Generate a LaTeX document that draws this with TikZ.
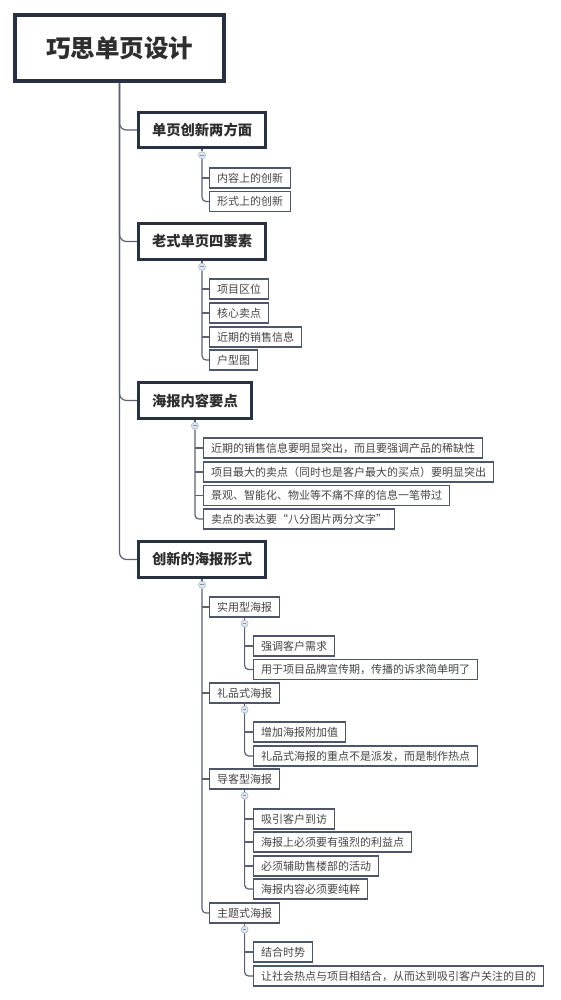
\documentclass[tikz,border=0pt]{standalone}
\usepackage{fontspec}
\setmainfont{Noto Sans CJK SC}
\usepackage{xcolor}
\usetikzlibrary{positioning,calc}

\definecolor{navy}{HTML}{283042}
\definecolor{leafline}{HTML}{4E576A}
\definecolor{linkgray}{HTML}{5A6272}
\definecolor{txt}{HTML}{2E2E2E}
\definecolor{leaftxt}{HTML}{454545}
\definecolor{foldfill}{HTML}{DFE7F1}
\definecolor{folddraw}{HTML}{A9B7C9}

\begin{document}
\begin{tikzpicture}[
    x=1pt, y=-1pt,
    root/.style={draw=navy, line width=4pt, fill=white, minimum width=209pt, minimum height=66pt, align=center, font=\fontsize{24.5}{28}\selectfont\bfseries, text=txt},
    topic/.style={draw=navy, line width=3pt, fill=white, anchor=west, inner xsep=13.5pt, minimum height=35.5pt, font=\fontsize{14.3}{17}\selectfont\bfseries, text=txt},
    subtopic/.style={draw=leafline, line width=1.2pt, fill=white, anchor=west, inner xsep=7.5pt, minimum height=20pt, font=\fontsize{11}{13}\selectfont, text=leaftxt},
    leaf/.style={subtopic},
    fold/.style={circle, draw=folddraw, fill=foldfill, line width=0.6pt, minimum size=7pt, inner sep=0pt,
        path picture={\draw[folddraw!80!black, line width=0.6pt] ([xshift=-1.8pt]path picture bounding box.center) -- ([xshift=1.8pt]path picture bounding box.center);}},
    link/.style={draw=linkgray, line width=1.2pt},
    trunk/.style={link, rounded corners=7pt},
    twig/.style={link, rounded corners=4pt}
]
\useasboundingbox[fill=white] (0,0) rectangle (560,1000);

% root and main topics
\node[root] (root) at (119.5,48) {巧思单页设计};
\node[topic] (t1) at (137,130) {单页创新两方面};
\node[topic] (t2) at (137,241.5) {老式单页四要素};
\node[topic] (t3) at (137,400.5) {海报内容要点};
\node[topic] (t4) at (137,559.5) {创新的海报形式};

\node[fold] (m1) at ($(t1.south)+(0,6)$) {};
\node[fold] (m2) at ($(t2.south)+(0,6)$) {};
\node[fold] (m3) at ($(t3.south)+(0,6)$) {};
\node[fold] (m4) at ($(t4.south)+(0,6)$) {};

% 单页创新两方面
\node[leaf] (a1) at (209,178) {内容上的创新};
\node[leaf] (a2) at (209,201.5) {形式上的创新};

% 老式单页四要素
\node[leaf] (b1) at (209,289) {项目区位};
\node[leaf] (b2) at (209,313) {核心卖点};
\node[leaf] (b3) at (209,337) {近期的销售信息};
\node[leaf] (b4) at (209,360) {户型图};

% 海报内容要点
\node[leaf] (c1) at (203,448) {近期的销售信息要明显突出，而且要强调产品的稀缺性};
\node[leaf] (c2) at (203,472) {项目最大的卖点（同时也是客户最大的买点）要明显突出};
\node[leaf] (c3) at (203,495.5) {景观、智能化、物业等不痛不痒的信息一笔带过};
\node[leaf] (c4) at (203,519) {卖点的表达要“八分图片两分文字”};

% 创新的海报形式
\node[subtopic] (s1) at (209,607) {实用型海报};
\node[subtopic] (s2) at (209,693) {礼品式海报};
\node[subtopic] (s3) at (209,779) {导客型海报};
\node[subtopic] (s4) at (209,913) {主题式海报};

\node[fold] (n1) at ($(s1.south)+(0,6)$) {};
\node[fold] (n2) at ($(s2.south)+(0,6)$) {};
\node[fold] (n3) at ($(s3.south)+(0,6)$) {};
\node[fold] (n4) at ($(s4.south)+(0,6)$) {};

\node[leaf] (d1) at (253,646) {强调客户需求};
\node[leaf] (d2) at (253,669.5) {用于项目品牌宣传期，传播的诉求简单明了};
\node[leaf] (e1) at (253,732) {增加海报附加值};
\node[leaf] (e2) at (253,756) {礼品式海报的重点不是派发，而是制作热点};
\node[leaf] (f1) at (253,819) {吸引客户到访};
\node[leaf] (f2) at (253,842) {海报上必须要有强烈的利益点};
\node[leaf] (f3) at (253,866) {必须辅助售楼部的活动};
\node[leaf] (f4) at (253,889) {海报内容必须要纯粹};
\node[leaf] (g1) at (253,952) {结合时势};
\node[leaf] (g2) at (253,976) {让社会热点与项目相结合，从而达到吸引客户关注的目的};

% connectors
\draw[trunk] (root.south) |- (t1.west);
\draw[trunk] (root.south) |- (t2.west);
\draw[trunk] (root.south) |- (t3.west);
\draw[trunk] (root.south) |- (t4.west);

\draw[link] (t1) -- (m1);
\draw[link] (t2) -- (m2);
\draw[link] (t3) -- (m3);
\draw[link] (t4) -- (m4);
\draw[link] (s1) -- (n1);
\draw[link] (s2) -- (n2);
\draw[link] (s3) -- (n3);
\draw[link] (s4) -- (n4);

\draw[link] (m1.south |- a1.west) -- (a1.west);
\draw[twig] (m1.south) |- (a2.west);

\draw[link] (m2.south |- b1.west) -- (b1.west);
\draw[link] (m2.south |- b2.west) -- (b2.west);
\draw[link] (m2.south |- b3.west) -- (b3.west);
\draw[twig] (m2.south) |- (b4.west);

\draw[link] (m3.south |- c1.west) -- (c1.west);
\draw[link] (m3.south |- c2.west) -- (c2.west);
\draw[link] (m3.south |- c3.west) -- (c3.west);
\draw[twig] (m3.south) |- (c4.west);

\draw[link] (m4.south |- s1.west) -- (s1.west);
\draw[link] (m4.south |- s2.west) -- (s2.west);
\draw[link] (m4.south |- s3.west) -- (s3.west);
\draw[twig] (m4.south) |- (s4.west);

\draw[link] (n1.south |- d1.west) -- (d1.west);
\draw[twig] (n1.south) |- (d2.west);
\draw[link] (n2.south |- e1.west) -- (e1.west);
\draw[twig] (n2.south) |- (e2.west);
\draw[link] (n3.south |- f1.west) -- (f1.west);
\draw[link] (n3.south |- f2.west) -- (f2.west);
\draw[link] (n3.south |- f3.west) -- (f3.west);
\draw[twig] (n3.south) |- (f4.west);
\draw[link] (n4.south |- g1.west) -- (g1.west);
\draw[twig] (n4.south) |- (g2.west);

\end{tikzpicture}
\end{document}
